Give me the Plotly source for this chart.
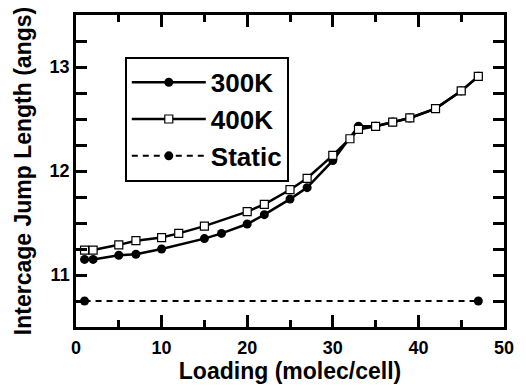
import plotly.graph_objects as go

# Data
x300 = [1, 2, 5, 7, 10, 15, 17, 20, 22, 25, 27, 30, 33, 35, 37, 39, 42, 45, 47]
y300 = [11.15, 11.15, 11.19, 11.20, 11.25, 11.35, 11.40, 11.49, 11.58, 11.73, 11.84,
        12.10, 12.43, 12.43, 12.47, 12.51, 12.60, 12.77, 12.91]
x400 = [1, 2, 5, 7, 10, 12, 15, 20, 22, 25, 27, 30, 32, 33, 35, 37, 39, 42, 45, 47]
y400 = [11.24, 11.24, 11.29, 11.33, 11.36, 11.40, 11.47, 11.61, 11.68, 11.82, 11.93,
        12.15, 12.31, 12.40, 12.43, 12.47, 12.51, 12.60, 12.77, 12.91]
xstatic = [1, 47]
ystatic = [10.75, 10.75]

FONT = "Liberation Sans, Arial, Helvetica, sans-serif"

fig = go.Figure()
fig.add_trace(go.Scatter(x=x300, y=y300, name="300K", mode="lines+markers",
                         line=dict(color="black", width=2.5),
                         marker=dict(symbol="circle", size=9, color="black")))
fig.add_trace(go.Scatter(x=x400, y=y400, name="400K", mode="lines+markers",
                         line=dict(color="black", width=2.5),
                         marker=dict(symbol="square", size=8, color="white",
                                     line=dict(color="black", width=1.2))))
fig.add_trace(go.Scatter(x=xstatic, y=ystatic, name="Static", mode="lines+markers",
                         line=dict(color="black", width=2, dash="6px,5px"),
                         marker=dict(symbol="circle", size=9, color="black")))

axis_common = dict(showline=True, linecolor="black", linewidth=2.5, mirror="allticks",
                   ticks="inside", tickcolor="black", tickwidth=2.5, showgrid=False,
                   zeroline=False,
                   tickfont=dict(family=FONT, size=18, color="black", weight="bold"))

fig.update_xaxes(range=[0, 50], dtick=10, ticklen=12, ticklabelstandoff=3,
                 minor=dict(dtick=5, ticks="inside", ticklen=7, tickwidth=2.5, tickcolor="black"),
                 title=dict(text="Loading (molec/cell)", standoff=2,
                            font=dict(family=FONT, size=23, color="black", weight="bold")),
                 **axis_common)
fig.update_yaxes(range=[10.5, 13.5], dtick=1, ticklen=11,
                 minor=dict(dtick=0.25, ticks="inside", ticklen=11, tickwidth=2.5, tickcolor="black"),
                 title=dict(text="Intercage Jump Length (angs)", standoff=12,
                            font=dict(family=FONT, size=23, color="black", weight="bold")),
                 **axis_common)

fig.update_layout(
    width=526, height=388,
    margin=dict(l=76, r=12, t=12, b=53),
    plot_bgcolor="white", paper_bgcolor="white",
    legend=dict(x=0.114, y=0.866, xanchor="left", yanchor="top",
                bordercolor="black", borderwidth=2, bgcolor="white",
                itemwidth=74, tracegroupgap=0,
                font=dict(family=FONT, size=26, color="black", weight="bold")),
    showlegend=True,
)

fig.write_html("out.html")
